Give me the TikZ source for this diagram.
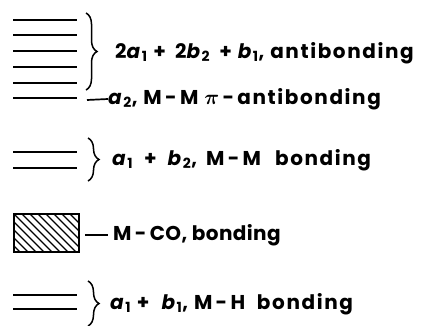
\documentclass[tikz,border=0pt]{standalone}
\usepackage{amsmath}
\usepackage{fontspec}
\setmainfont{Poppins}
\usetikzlibrary{calc,decorations.pathreplacing}

\newcommand{\orb}[2]{\textit{#1}\textsubscript{#2}}

\begin{document}
\begin{tikzpicture}[x=1pt, y=-1pt,
  lvl/.style={line width=1.7pt},
  brc/.style={line width=1.5pt, decorate, decoration={brace, amplitude=11pt}},
  lbl/.style={anchor=west, inner sep=0pt,
    font=\fontsize{20}{24}\selectfont\bfseries\addfontfeature{LetterSpace=8}},
  tie/.style={line width=1.7pt}
]
\useasboundingbox (0,0) rectangle (421,325);
% antibonding set
\foreach \y in {20,35,51,67,83} \draw[lvl] (13,\y) -- (77,\y);
\draw[brc] (86,13) -- (86,90);
\node[lbl] (anti) at (115,53) {2\orb{a}{1}\ +\ \,2\orb{b}{2}\ \,+\ \orb{b}{1}, antibonding};
% a2 level
\draw[lvl] (13,98) -- (77,98);
\coordinate (a2end) at (87,100);
\node[lbl] (pianti) at (108,99) {\orb{a}{2}, M\,-\,M $\boldsymbol{\pi}$\,-\,antibonding};
\draw[tie] (a2end) -- (pianti.west);
% M-M bonding
\foreach \y in {152,168} \draw[lvl] (13,\y) -- (77,\y);
\draw[brc] (88,138) -- (88,181);
\node[lbl] (mmb) at (112,160)
  {\orb{a}{1}\hspace{11pt}+\hspace{11pt}\orb{b}{2},\hspace{9pt}M\,-\,M\hspace{14pt}bonding};
% M-CO band
\node[draw, line width=1.8pt, minimum width=65pt, minimum height=38pt, inner sep=0pt,
  path picture={\foreach \k in {-48,-40,...,64}
    \draw[line width=1.2pt] ($(path picture bounding box.north west)+(\k,0)$) -- ++(42,42);}]
  (band) at (46.5,233) {};
\node[lbl, font=\fontsize{20}{24}\selectfont\bfseries\addfontfeature{LetterSpace=2}]
  (mco) at (113,235) {M\,-\,CO, bonding};
\draw[tie] ($(band.east)+(5,2)$) -- ($(mco.west)+(-5,0)$);
% M-H bonding
\foreach \y in {295,309} \draw[lvl] (13,\y) -- (77,\y);
\draw[brc] (88,281) -- (88,326);
\node[lbl] (mhb) at (110,304) {\orb{a}{1}\ +\hspace{12pt}\orb{b}{1}, M\,-\,H\ \ bonding};
\end{tikzpicture}
\end{document}
